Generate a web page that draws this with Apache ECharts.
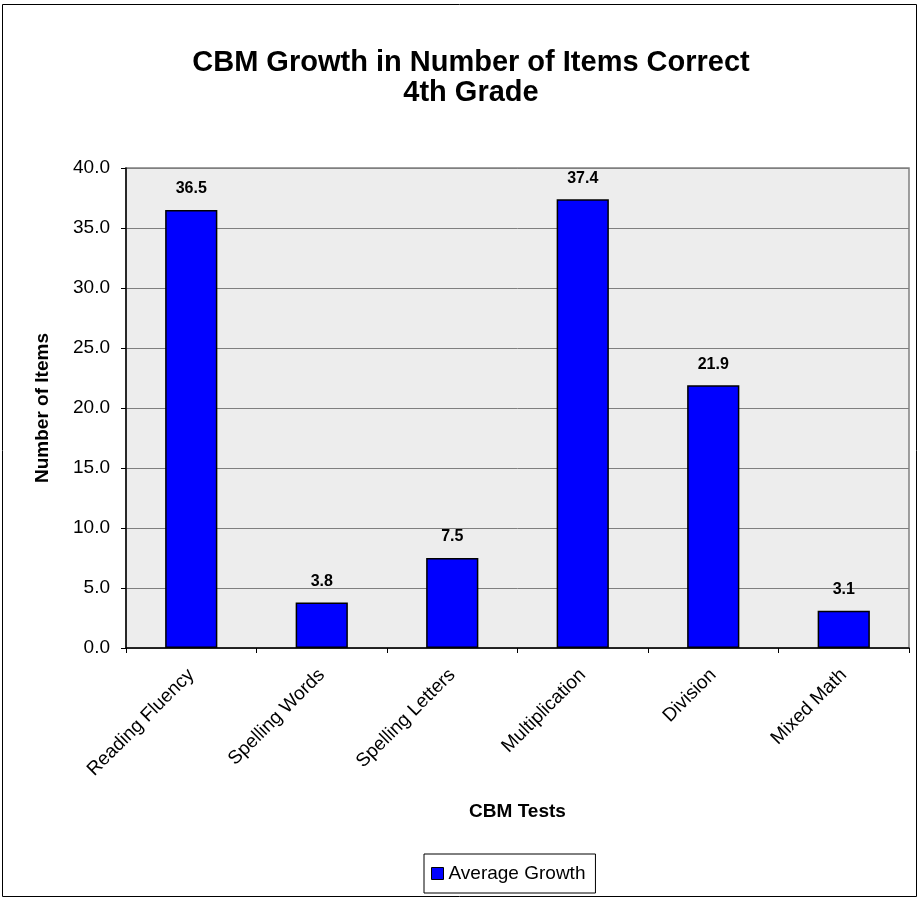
<!DOCTYPE html>
<html>
<head>
<meta charset="utf-8">
<script src="https://cdn.jsdelivr.net/npm/echarts@6/dist/echarts.min.js"></script>
<style>
  html, body { margin: 0; padding: 0; background: #fff; }
  #chart { width: 923px; height: 900px; }
</style>
</head>
<body>
<div id="chart"></div>
<script>
// categories and values
const categories = ["Reading Fluency", "Spelling Words", "Spelling Letters", "Multiplication", "Division", "Mixed Math"];
const avgGrowth = [36.5, 3.8, 7.5, 37.4, 21.9, 3.1];
const seriesName = "Average Growth";

const font = "'Liberation Sans', Arial, sans-serif";
const myChart = echarts.init(document.getElementById("chart"));

const option = {
  animation: false,
  textStyle: { fontFamily: font, color: "#000" },
  title: {
    text: "CBM Growth in Number of Items Correct\n4th Grade",
    left: 466,
    textAlign: "center",
    top: 43,
    textStyle: { fontSize: 29, fontWeight: "bold", lineHeight: 30, color: "#000", fontFamily: font },
  },
  // outer frame
  graphic: [
    {
      type: "rect",
      shape: { x: 2.5, y: 4.5, width: 914, height: 892 },
      style: { fill: "none", stroke: "#000", lineWidth: 1 },
      silent: true,
    },
  ],
  legend: {
    left: 424,
    top: 854,
    padding: [10, 10, 10, 7],
    borderColor: "#000",
    borderWidth: 1,
    icon: "rect",
    itemWidth: 12,
    itemHeight: 12,
    itemGap: 6,
    itemStyle: { borderColor: "#000", borderWidth: 1 },
    textStyle: { fontSize: 19, color: "#000", fontFamily: font },
    data: [seriesName],
  },
  grid: {
    left: 126,
    right: 14,
    top: 168,
    bottom: 252,
    show: true,
    backgroundColor: "#EDEDED",
    borderColor: "#808080",
    borderWidth: 1.5,
  },
  xAxis: {
    type: "category",
    data: categories,
    name: "CBM Tests",
    nameLocation: "middle",
    nameGap: 154,
    nameTextStyle: { fontSize: 19, fontWeight: "bold", color: "#000" },
    axisLine: { lineStyle: { color: "#000", width: 1.5 } },
    axisTick: { show: true, alignWithLabel: false, length: 5, lineStyle: { color: "#000" } },
    axisLabel: { rotate: 45, fontSize: 19, color: "#000", margin: 24, interval: 0 },
  },
  yAxis: {
    type: "value",
    min: 0,
    max: 40,
    interval: 5,
    name: "Number of Items",
    nameLocation: "middle",
    nameGap: 74,
    nameTextStyle: { fontSize: 19, fontWeight: "bold", color: "#000" },
    axisLine: { show: true, lineStyle: { color: "#000", width: 1.5 } },
    axisTick: { show: true, length: 5, lineStyle: { color: "#000" } },
    axisLabel: { fontSize: 19, color: "#000", margin: 16, formatter: (v) => v.toFixed(1) },
    splitLine: { show: true, lineStyle: { color: "#7f7f7f", width: 1 } },
  },
  series: [
    {
      type: "bar",
      name: seriesName,
      data: avgGrowth,
      barWidth: "40%",
      itemStyle: { color: "#0000FF", borderColor: "#000", borderWidth: 1.5 },
      label: {
        show: true,
        position: "top",
        distance: 13,
        fontSize: 16,
        fontWeight: "bold",
        color: "#000",
        formatter: (p) => p.value.toFixed(1),
      },
    },
  ],
};

myChart.setOption(option);
</script>
</body>
</html>
